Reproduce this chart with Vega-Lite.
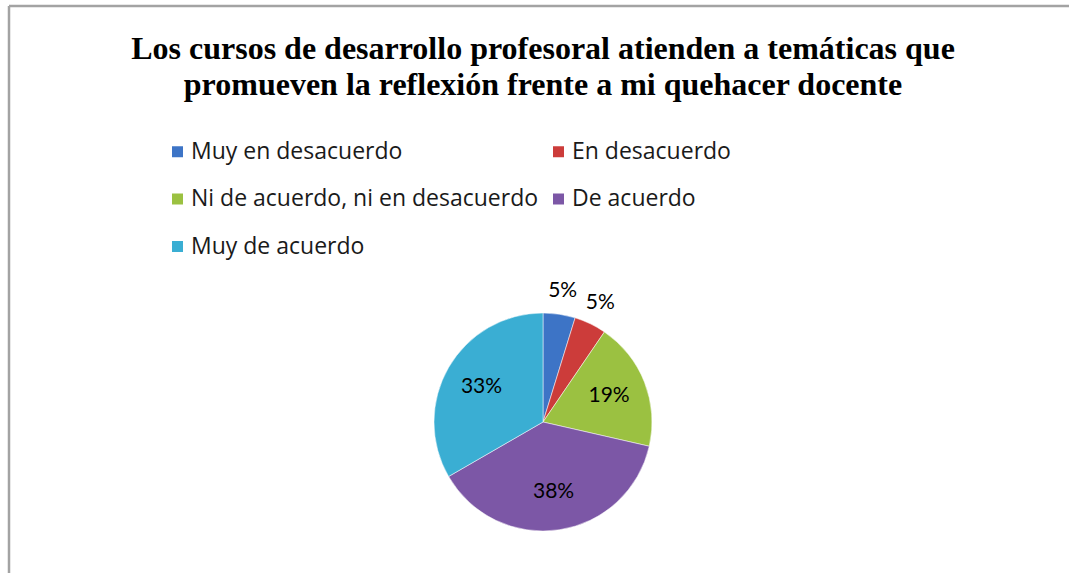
{
  "$schema": "https://vega.github.io/schema/vega-lite/v6.json",
  "width": 1068,
  "height": 832,
  "autosize": {"type": "none"},
  "padding": {"left": 9, "top": 6, "right": -8, "bottom": -265},
  "background": "white",
  "config": {
    "view": {"stroke": null}
  },
  "title": {
    "text": ["Los cursos de desarrollo profesoral atienden a temáticas que", "promueven la reflexión frente a mi quehacer docente"],
    "font": "Liberation Serif",
    "fontSize": 32,
    "fontWeight": "bold",
    "color": "#000000",
    "anchor": "middle",
    "frame": "group",
    "lineHeight": 36,
    "baseline": "top",
    "offset": 0,
    "dy": 97
  },
  "layer": [
    {
      "data": {"values": [{"marco": "superior"}]},
      "mark": {"type": "rule", "stroke": "#a3a3a3", "strokeWidth": 2.5},
      "encoding": {
        "x": {"value": 0},
        "x2": {"value": "width"},
        "y": {"value": 0}
      }
    },
    {
      "data": {"values": [{"marco": "izquierdo"}]},
      "mark": {"type": "rule", "stroke": "#a3a3a3", "strokeWidth": 2.5},
      "encoding": {
        "x": {"value": 0},
        "y": {"value": 0},
        "y2": {"value": "height"}
      }
    },
    {
      "data": {"name": "respuestas"},
      "mark": {"type": "arc", "outerRadius": 109, "stroke": "#ffffff", "strokeWidth": 0.5},
      "encoding": {
        "theta": {"field": "n", "type": "quantitative", "stack": true},
        "order": {"field": "orden", "type": "quantitative"},
        "color": {
          "field": "categoria",
          "type": "nominal",
          "scale": {
            "domain": ["Muy en desacuerdo", "En desacuerdo", "Ni de acuerdo, ni en desacuerdo", "De acuerdo", "Muy de acuerdo"],
            "range": ["#3d74c6", "#cc3c3a", "#9bc141", "#7c57a6", "#3aaed3"]
          },
          "legend": {
            "orient": "none",
            "legendX": 157,
            "legendY": 134,
            "title": null,
            "columns": 2,
            "direction": "horizontal",
            "symbolType": "square",
            "symbolSize": 121,
            "symbolStrokeWidth": 0,
            "labelFont": "Open Sans",
            "labelFontSize": 23,
            "labelColor": "#1a1a1a",
            "labelOffset": 2,
            "labelLimit": 600,
            "rowPadding": 23.5,
            "columnPadding": 8,
            "padding": 0
          }
        }
      }
    },
    {
      "data": {"name": "respuestas"},
      "mark": {"type": "text", "radius": 71, "font": "Lato", "fontSize": 21, "color": "#000000"},
      "encoding": {
        "theta": {"field": "n", "type": "quantitative", "stack": true},
        "order": {"field": "orden", "type": "quantitative"},
        "text": {"condition": {"test": "datum.n >= 2", "field": "pct"}, "value": ""}
      }
    },
    {
      "data": {"name": "respuestas"},
      "mark": {"type": "text", "radius": 132, "font": "Lato", "fontSize": 21, "color": "#000000"},
      "encoding": {
        "theta": {"field": "n", "type": "quantitative", "stack": true},
        "order": {"field": "orden", "type": "quantitative"},
        "text": {"condition": {"test": "datum.n < 2", "field": "pct"}, "value": ""}
      }
    }
  ],
  "datasets": {
    "respuestas": [
      {"categoria": "Muy en desacuerdo", "n": 1, "pct": "5%", "orden": 1},
      {"categoria": "En desacuerdo", "n": 1, "pct": "5%", "orden": 2},
      {"categoria": "Ni de acuerdo, ni en desacuerdo", "n": 4, "pct": "19%", "orden": 3},
      {"categoria": "De acuerdo", "n": 8, "pct": "38%", "orden": 4},
      {"categoria": "Muy de acuerdo", "n": 7, "pct": "33%", "orden": 5}
    ]
  }
}
